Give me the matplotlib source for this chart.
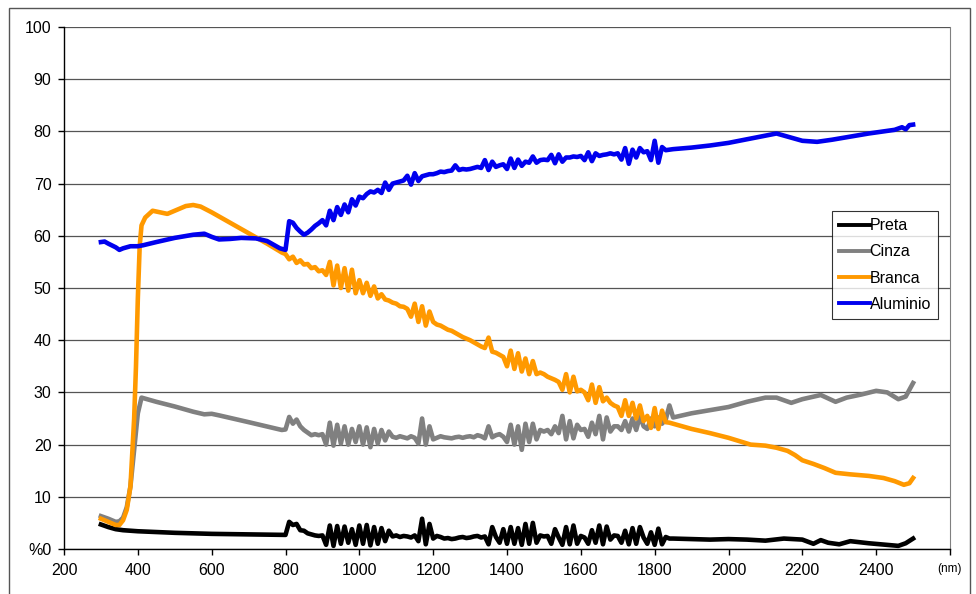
import matplotlib
matplotlib.use("Agg")
import numpy as np
import matplotlib.pyplot as plt
from matplotlib.patches import Rectangle

plt.rcParams["font.family"] = ["Liberation Sans", "DejaVu Sans"]

# ── data ──
# smooth start 300-800, noisy section 800-1850 (10 nm steps), smooth tail 1850-2500
NOISY_NM = np.arange(800, 1851, 10)

preta_head_nm = [300, 320, 340, 360, 400, 500, 600, 700, 790]
preta_head = [4.7, 4.2, 3.8, 3.6, 3.4, 3.1, 2.9, 2.8, 2.7]
preta_mid = [2.7, 5.2, 4.6, 4.8, 3.6, 3.5, 3.0, 2.8, 2.6, 2.5,
             2.6, 0.8, 4.5, 0.6, 4.4, 1.0, 4.3, 1.2, 3.8, 0.8,
             4.5, 1.0, 4.6, 0.7, 4.2, 1.0, 4.0, 1.5, 3.5, 2.4,
             2.6, 2.3, 2.5, 2.4, 2.2, 2.6, 1.5, 5.8, 0.9, 4.8,
             2.0, 2.5, 2.3, 2.0, 2.1, 1.9, 2.0, 2.2, 2.3, 2.1,
             2.2, 2.4, 2.5, 2.2, 2.4, 0.9, 4.2, 2.3, 1.2, 3.8,
             1.0, 4.2, 1.0, 4.0, 0.8, 4.8, 1.0, 5.0, 1.2, 2.6,
             2.4, 2.5, 1.0, 3.8, 2.2, 0.8, 4.2, 0.9, 4.5, 1.0,
             2.5, 2.2, 1.0, 3.6, 1.2, 4.5, 0.9, 4.3, 1.8, 2.6,
             2.5, 1.2, 3.5, 0.9, 4.0, 1.0, 4.2, 2.2, 1.0, 3.2,
             0.8, 3.9, 0.9, 2.3, 2.0, 2.0]
preta_tail_nm = [1900, 1950, 2000, 2050, 2100, 2150, 2200, 2230, 2250, 2270,
                 2300, 2330, 2380, 2430, 2460, 2480, 2500]
preta_tail = [1.9, 1.8, 1.9, 1.8, 1.6, 2.0, 1.8, 1.0, 1.7, 1.2,
              0.9, 1.5, 1.1, 0.8, 0.6, 1.1, 2.0]

cinza_head_nm = [300, 320, 340, 350, 360, 370, 380, 390, 400, 410, 420,
                 450, 500, 550, 580, 600, 620, 700, 790]
cinza_head = [6.3, 5.8, 5.2, 5.3, 6.0, 8.0, 12.0, 19.0, 26.0, 29.0, 28.8,
              28.2, 27.3, 26.3, 25.8, 25.9, 25.6, 24.3, 22.8]
cinza_mid = [22.9, 25.3, 24.0, 24.8, 23.5, 22.8, 22.3, 21.8, 22.0, 21.8,
             22.0, 20.0, 24.2, 19.8, 23.8, 20.2, 23.5, 20.0, 23.0, 20.5,
             23.5, 20.0, 23.3, 19.5, 23.0, 20.2, 22.8, 20.8, 22.5, 21.5,
             21.3, 21.6, 21.4, 21.2, 21.6, 21.3, 20.2, 25.0, 20.0, 23.5,
             21.0, 21.3, 21.6, 21.4, 21.3, 21.2, 21.4, 21.5, 21.3, 21.5,
             21.6, 21.4, 21.8, 21.6, 21.2, 23.5, 21.4, 21.8, 22.0, 21.5,
             20.5, 23.8, 20.0, 23.5, 19.0, 24.0, 20.5, 24.0, 21.0, 22.8,
             22.5, 22.8, 22.0, 23.5, 22.2, 25.5, 21.0, 24.5, 21.2, 23.8,
             22.8, 23.0, 21.5, 24.2, 22.0, 25.5, 21.0, 25.2, 22.5, 23.5,
             23.5, 22.8, 24.5, 22.5, 25.0, 22.8, 25.5, 23.5, 23.0, 25.0,
             23.5, 25.2, 24.0, 24.8, 27.5, 25.2]
cinza_tail_nm = [1900, 1950, 2000, 2050, 2100, 2130, 2170, 2200, 2250, 2290,
                 2320, 2360, 2400, 2430, 2460, 2480, 2500]
cinza_tail = [26.0, 26.6, 27.2, 28.2, 29.0, 29.0, 28.0, 28.7, 29.5, 28.2,
              29.0, 29.6, 30.3, 30.0, 28.7, 29.2, 31.8]

branca_head_nm = [300, 320, 340, 350, 360, 370, 380, 390, 395, 400, 405,
                  410, 420, 440, 460, 480, 500, 530, 550, 570, 600, 650,
                  700, 750, 790]
branca_head = [5.8, 5.2, 4.6, 4.6, 5.5, 7.5, 12.0, 25.0, 35.0, 48.0, 58.0,
               62.0, 63.5, 64.8, 64.5, 64.2, 64.8, 65.7, 65.9, 65.6, 64.5,
               62.5, 60.5, 58.5, 56.8]
branca_mid = [56.5, 55.5, 56.0, 54.8, 55.3, 54.5, 54.6, 53.8, 54.0, 53.2,
              53.4, 52.5, 55.0, 50.5, 54.3, 50.0, 53.8, 49.5, 53.5, 49.0,
              51.5, 49.0, 51.0, 48.5, 50.3, 48.0, 48.8, 47.8, 47.6, 47.2,
              47.0, 46.5, 46.4, 46.0, 44.5, 47.0, 43.5, 46.5, 42.8, 45.5,
              43.5, 43.0, 42.8, 42.4, 42.0, 41.8, 41.4, 41.0, 40.6, 40.3,
              40.0, 39.6, 39.2, 38.8, 38.5, 40.5, 37.8, 37.6, 37.2, 36.8,
              35.0, 38.0, 34.5, 37.5, 34.0, 36.5, 33.5, 36.0, 33.5, 33.8,
              33.5, 33.0, 32.7, 32.4, 32.0, 30.5, 33.5, 30.0, 33.0, 30.2,
              30.5, 30.0, 28.5, 31.5, 28.0, 31.0, 28.3, 29.0, 28.0, 27.5,
              27.2, 25.5, 28.5, 25.5, 28.0, 25.0, 27.5, 24.5, 25.5, 23.2,
              27.0, 23.0, 26.5, 24.3, 24.2, 24.0]
branca_tail_nm = [1900, 1950, 2000, 2060, 2100, 2130, 2160, 2180, 2200, 2230,
                  2260, 2290, 2330, 2380, 2420, 2450, 2475, 2490, 2500]
branca_tail = [23.0, 22.2, 21.3, 20.0, 19.8, 19.4, 18.8, 18.0, 17.0, 16.3,
               15.5, 14.6, 14.3, 14.0, 13.6, 13.0, 12.3, 12.6, 13.6]

aluminio_head_nm = [300, 310, 320, 340, 350, 360, 380, 400, 415, 450, 500,
                    550, 580, 600, 620, 650, 680, 720, 750, 785]
aluminio_head = [58.8, 58.9, 58.5, 57.8, 57.3, 57.6, 58.0, 58.0, 58.2, 58.8,
                 59.6, 60.2, 60.4, 59.8, 59.3, 59.4, 59.6, 59.5, 59.0, 57.6]
aluminio_mid = [57.3, 62.8, 62.5, 61.5, 60.8, 60.2, 60.6, 61.2, 61.9, 62.4,
                63.0, 62.0, 64.8, 63.0, 65.5, 64.0, 66.0, 64.5, 67.0, 65.8,
                67.5, 67.2, 68.0, 68.5, 68.3, 68.8, 68.2, 70.2, 68.8, 70.0,
                70.2, 70.4, 70.6, 71.5, 69.8, 72.0, 70.5, 71.4, 71.6, 71.8,
                71.8, 72.0, 72.3, 72.2, 72.4, 72.5, 73.5, 72.6, 72.8, 72.7,
                72.8, 73.0, 73.2, 73.0, 74.5, 72.6, 74.2, 73.2, 73.5, 73.7,
                72.8, 74.8, 73.0, 74.6, 73.4, 74.2, 74.0, 75.2, 74.0, 74.5,
                74.6, 74.5, 75.5, 73.9, 75.6, 74.2, 75.0, 75.0, 75.2, 75.1,
                75.3, 74.5, 76.0, 74.3, 75.8, 75.3, 75.5, 75.6, 75.8, 75.6,
                75.8, 74.6, 76.8, 73.8, 76.5, 75.0, 76.8, 76.0, 76.2, 74.5,
                78.2, 74.0, 77.0, 76.4, 76.5, 76.6]
aluminio_tail_nm = [1900, 1950, 2000, 2050, 2100, 2130, 2160, 2200, 2240, 2280,
                    2330, 2380, 2420, 2450, 2470, 2480, 2490, 2500]
aluminio_tail = [76.9, 77.3, 77.8, 78.5, 79.2, 79.6, 79.0, 78.2, 78.0, 78.4,
                 79.0, 79.6, 80.0, 80.3, 80.8, 80.4, 81.2, 81.3]

SERIES = ["Preta", "Cinza", "Branca", "Aluminio"]
COLORS = ["#000000", "#808080", "#FF9900", "#0000EE"]
X_TICKS = [200, 400, 600, 800, 1000, 1200, 1400, 1600, 1800, 2000, 2200, 2400, 2600]
X_LABELS = ["200", "400", "600", "800", "1000", "1200", "1400", "1600", "1800",
            "2000", "2200", "2400", "(nm)"]
Y_TICKS = [0, 10, 20, 30, 40, 50, 60, 70, 80, 90, 100]
Y_LABELS = ["%0", "10", "20", "30", "40", "50", "60", "70", "80", "90", "100"]


def join(h_nm, h, mid, t_nm, t):
    x = np.concatenate([h_nm, NOISY_NM, t_nm])
    y = np.concatenate([h, mid, t])
    return x, y


curves = [
    join(preta_head_nm, preta_head, preta_mid, preta_tail_nm, preta_tail),
    join(cinza_head_nm, cinza_head, cinza_mid, cinza_tail_nm, cinza_tail),
    join(branca_head_nm, branca_head, branca_mid, branca_tail_nm, branca_tail),
    join(aluminio_head_nm, aluminio_head, aluminio_mid, aluminio_tail_nm, aluminio_tail),
]

fig = plt.figure(figsize=(9.76, 5.94), dpi=100)
fig.patch.set_facecolor("white")
ax = fig.add_axes([64 / 976, 1 - 549 / 594, (950 - 64) / 976, (549 - 27) / 594])

for (x, y), name, c in zip(curves, SERIES, COLORS):
    ax.plot(x, y, color=c, lw=3.3, label=name, solid_joinstyle="round", zorder=3)

ax.set_xlim(200, 2600)
ax.set_ylim(0, 100)
ax.set_yticks(Y_TICKS)
ax.set_yticklabels(Y_LABELS)
ax.set_xticks(X_TICKS)
ax.set_xticklabels(X_LABELS)
ax.tick_params(axis="both", labelsize=11.5, colors="black", direction="out", length=4, width=1)
ax.tick_params(axis="x", pad=6)
ax.tick_params(axis="y", pad=5)
ax.get_xticklabels()[-1].set_fontsize(8.5)
ax.yaxis.grid(True, color="#555555", lw=0.9, zorder=1)
ax.spines["top"].set_visible(False)
ax.spines["right"].set_color("#808080")
for s in ("left", "bottom"):
    ax.spines[s].set_color("black")
    ax.spines[s].set_linewidth(1.0)

leg = ax.legend(loc="upper left", bbox_to_anchor=(832 / 976, 1 - 211 / 594),
                bbox_transform=fig.transFigure, fontsize=11.5, frameon=True,
                fancybox=False, edgecolor="black", handlelength=1.9,
                handletextpad=0.0, labelspacing=0.7, borderpad=0.45,
                borderaxespad=0)
leg.get_frame().set_linewidth(0.8)
for h in leg.get_lines():
    h.set_linewidth(2.8)

fig.patches.append(Rectangle((9 / 976, -0.02), (970 - 9) / 976, 1 - 8 / 594 + 0.02,
                             transform=fig.transFigure, fill=False,
                             edgecolor="#555555", lw=1.0))

fig.savefig("out.png", dpi=100, facecolor="white")
